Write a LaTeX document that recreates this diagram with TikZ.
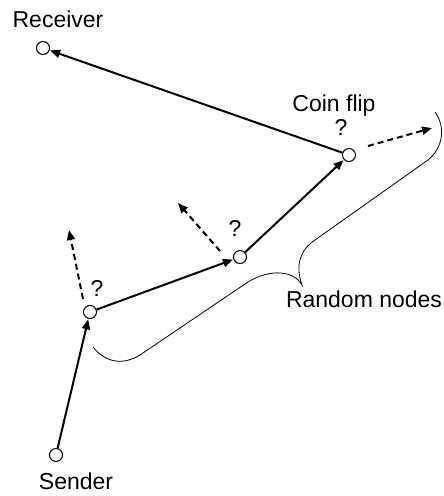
\documentclass[tikz,border=0pt]{standalone}
\usepackage{fontspec}
\setmainfont{Liberation Sans}
\usetikzlibrary{arrows.meta}
\begin{document}
\begin{tikzpicture}[x=1pt,y=-1pt,
  vertex/.style={circle,draw,fill=white,line width=1pt,minimum size=13pt,inner sep=0pt},
  link/.style={line width=2pt,-{Triangle[length=10pt,width=8pt]},shorten >=0.5pt},
  probe/.style={line width=2pt,dash pattern=on 6pt off 4pt,-{Triangle[length=10pt,width=8pt]}},
  lbl/.style={font=\fontsize{23}{27}\selectfont,inner sep=0pt}]
\useasboundingbox (0,0) rectangle (444,496);

% nodes of the path
\node[vertex] (rcv)  at (43,48)  {};
\node[vertex] (coin) at (349,155) {};
\node[vertex] (mid)  at (240,257) {};
\node[vertex] (low)  at (90,312) {};
\node[vertex] (snd)  at (56,455) {};

% labels
\node[lbl] (tr) at (58,19)   {Receiver};
\node[lbl] (tc) at (334,106) {Coin flip};
\node[lbl] (ts) at (76,481)  {Sender};
\node[lbl] (tn) at (364,299) {Random nodes};
\node[lbl] (q1) at (341,127) {?};
\node[lbl] (q2) at (235,228) {?};
\node[lbl] (q3) at (97,288)  {?};

% the route
\draw[link] (snd) -- (low);
\draw[link] (low) -- (mid);
\draw[link] (mid) -- (coin);
\draw[link] (coin) -- (rcv);

% random choices
\coordinate (a1) at (83,299);  \coordinate (b1) at (69,230);
\coordinate (a2) at (220,251); \coordinate (b2) at (178,203);
\coordinate (a3) at (368,146); \coordinate (b3) at (432,128);
\draw[probe] (a1) -- (b1);
\draw[probe] (a2) -- (b2);
\draw[probe] (a3) -- (b3);

% brace around the random nodes
\draw[line width=0.8pt] (93,347) .. controls (105,362) and (122,366) .. (140,355)
  -- (245,284) .. controls (265,270) and (292,268) .. (302,285)
  .. controls (295,265) and (300,250) .. (315,240)
  -- (428,160) .. controls (443,148) and (446,127) .. (435,112);
\end{tikzpicture}
\end{document}
